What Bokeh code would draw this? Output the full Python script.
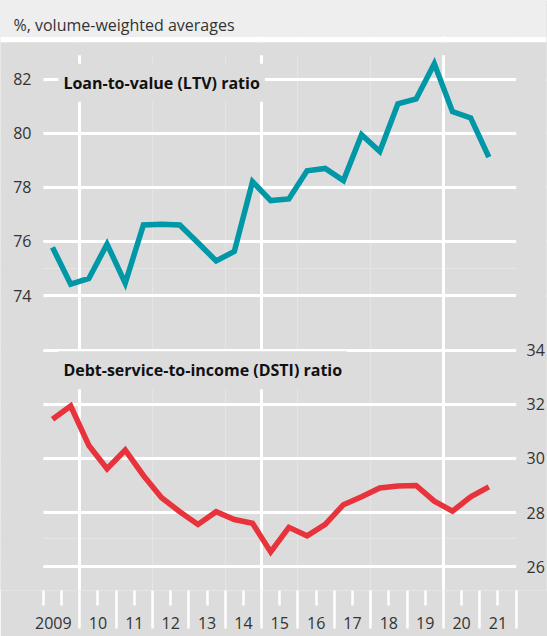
from bokeh.plotting import figure
from bokeh.models import Range1d, LinearAxis, FixedTicker, Grid, Label, BoxAnnotation
from bokeh.embed import file_html
from bokeh.resources import INLINE

# ---- data (half-year observations) ----
periods = [2009.25, 2009.75, 2010.25, 2010.75, 2011.25, 2011.75, 2012.25, 2012.75,
           2013.25, 2013.75, 2014.25, 2014.75, 2015.25, 2015.75, 2016.25, 2016.75,
           2017.25, 2017.75, 2018.25, 2018.75, 2019.25, 2019.75, 2020.25, 2020.75,
           2021.25]
ltv = [75.78, 74.42, 74.63, 75.90, 74.46, 76.61, 76.64, 76.61, 75.95, 75.28,
       75.63, 78.21, 77.51, 77.57, 78.61, 78.70, 78.25, 79.95, 79.33, 81.09,
       81.27, 82.57, 80.80, 80.57, 79.12]
dsti = [31.45, 31.94, 30.48, 29.62, 30.31, 29.37, 28.55, 28.03, 27.56, 28.03,
        27.74, 27.60, 26.54, 27.45, 27.14, 27.56, 28.29, 28.58, 28.91, 28.98,
        29.00, 28.42, 28.05, 28.58, 28.95]

ltv_ticks = [74, 76, 78, 80, 82]
dsti_ticks = [26, 28, 30, 32, 34]
year_starts = [2010, 2011, 2012, 2013, 2014, 2015, 2016, 2017, 2018, 2019, 2020, 2021, 2022]
year_mids = [2009.5, 2010.5, 2011.5, 2012.5, 2013.5, 2014.5, 2015.5, 2016.5,
             2017.5, 2018.5, 2019.5, 2020.5, 2021.5]
year_labels = ["2009", "10", "11", "12", "13", "14", "15", "16", "17", "18", "19", "20", "21"]
vgrid_years = [2010, 2015, 2020]

header_text = "%, volume-weighted averages"
ltv_title = "Loan-to-value (LTV) ratio"
dsti_title = "Debt-service-to-income (DSTI) ratio"

FONT = "Open Sans"
BG = "#dcdcdc"
HDR = "#eeeeee"
TEAL = "#0097a7"
RED = "#e8323c"
TXT = "#333333"

# plot data area spans 2009..2022; the frame is widened to the full canvas
X0, X1 = 2009, 2022
p = figure(width=547, height=636, x_range=Range1d(2007.8197, 2022.8353),
           y_range=Range1d(63.0876, 84.9124),
           toolbar_location=None, output_backend="svg",
           min_border_left=0, min_border_right=0, min_border_top=0, min_border_bottom=44,
           background_fill_color=BG, border_fill_color=BG, outline_line_color=None,
           x_axis_location=None, y_axis_location=None)
p.extra_y_ranges = {"dsti": Range1d(25.115, 46.940)}

# grids
p.add_layout(Grid(dimension=0, ticker=FixedTicker(ticks=vgrid_years),
                  grid_line_color="white", grid_line_width=3))
p.add_layout(Grid(dimension=1, ticker=FixedTicker(ticks=ltv_ticks),
                  grid_line_color="white", grid_line_width=3))
p.add_layout(Grid(dimension=1, y_range_name="dsti", ticker=FixedTicker(ticks=dsti_ticks),
                  grid_line_color="white", grid_line_width=3))

# keep grid lines inside the 2009..2022 area and below the header
TOP_GRID = 82.8848
p.add_layout(BoxAnnotation(right=X0, top=TOP_GRID, fill_color=BG, fill_alpha=1,
                           line_color=None, level="underlay"))
p.add_layout(BoxAnnotation(left=X1, top=TOP_GRID, fill_color=BG, fill_alpha=1,
                           line_color=None, level="underlay"))
p.add_layout(BoxAnnotation(bottom=TOP_GRID, top=83.3641, fill_color=BG, fill_alpha=1,
                           line_color=None, level="underlay"))
p.add_layout(BoxAnnotation(bottom=83.3641, top=83.5853, fill_color="white", fill_alpha=1,
                           line_color=None, level="underlay"))
p.add_layout(BoxAnnotation(bottom=83.5853, fill_color=HDR, fill_alpha=1,
                           line_color=None, level="underlay"))
p.add_layout(Label(x=2008.1765, y=83.9908, text=header_text, text_font=FONT,
                   text_font_size="16px", text_color=TXT, text_baseline="alphabetic"))

def style_y(ax, standoff):
    ax.axis_line_color = None
    ax.major_tick_line_color = None
    ax.minor_tick_line_color = None
    ax.major_tick_out = 0
    ax.major_tick_in = 0
    ax.minor_tick_out = 0
    ax.minor_tick_in = 0
    ax.major_label_standoff = standoff
    ax.major_label_text_font = FONT
    ax.major_label_text_font_size = "16px"
    ax.major_label_text_color = TXT

left = LinearAxis(ticker=FixedTicker(ticks=ltv_ticks))
style_y(left, -31)
p.add_layout(left, "left")

right = LinearAxis(y_range_name="dsti", ticker=FixedTicker(ticks=dsti_ticks))
style_y(right, -20)
p.add_layout(right, "right")

overrides = {2009.0: ""}
for t, lab in zip(year_mids, year_labels):
    overrides[t] = lab
overrides[year_mids[0]] = year_labels[0] + "\u00a0\u00a0\u00a0\u00a0"

bottom = LinearAxis(ticker=FixedTicker(ticks=[2009.0] + year_mids, minor_ticks=year_starts),
                    major_label_overrides=overrides)
bottom.axis_line_color = None
bottom.major_tick_line_color = "white"
bottom.major_tick_line_width = 2.5
bottom.major_tick_out = 15
bottom.major_tick_in = 0
bottom.minor_tick_line_color = "white"
bottom.minor_tick_line_width = 2.5
bottom.minor_tick_out = 38
bottom.minor_tick_in = 0
bottom.major_label_standoff = -17
bottom.major_label_text_font = FONT
bottom.major_label_text_font_size = "16px"
bottom.major_label_text_color = TXT
p.add_layout(bottom, "below")

# lines
p.line(periods, ltv, line_color=TEAL, line_width=5.5, line_join="miter")
p.line(periods, dsti, y_range_name="dsti", line_color=RED, line_width=5.5, line_join="miter")

# panel titles
p.add_layout(Label(x=2009.412, y=81.871, text=ltv_title, text_font=FONT, text_font_size="16px",
                   text_font_style="bold", text_color="#111111", text_baseline="middle",
                   background_fill_color=BG, padding=(5, 8)))
p.add_layout(Label(x=2009.412, y=33.263, y_range_name="dsti", text=dsti_title, text_font=FONT,
                   text_font_size="16px", text_font_style="bold", text_color="#111111",
                   text_baseline="middle", background_fill_color=BG, padding=(5, 8)))

open("out.html", "w").write(file_html(p, INLINE))
